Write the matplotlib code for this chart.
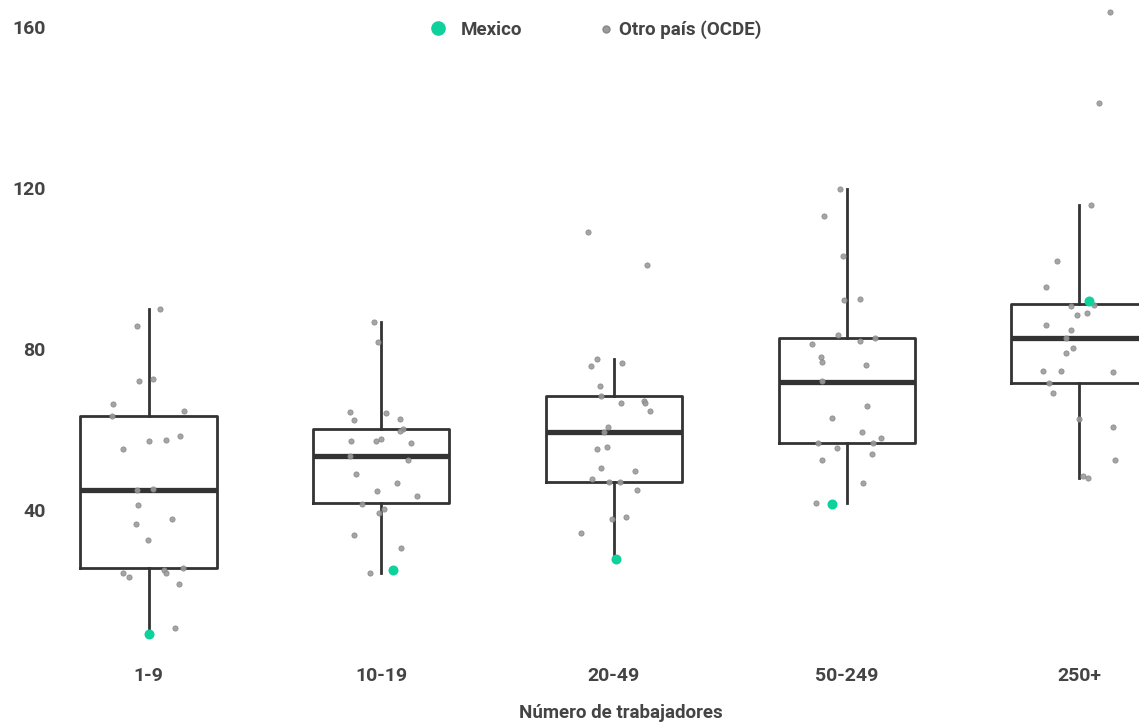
import matplotlib.pyplot as plt
from matplotlib.lines import Line2D

plt.rcParams['font.family'] = ['Roboto', 'DejaVu Sans']

# Categorías y estadísticos de cada caja
categorias = ['1-9', '10-19', '20-49', '50-249', '250+']
q1 = [25.5, 41.7, 47.0, 56.6, 71.5]
mediana = [45.0, 53.3, 59.5, 71.9, 82.7]
q3 = [63.4, 60.1, 68.2, 82.8, 91.1]
bigote_inf = [9.1, 24.3, 27.8, 41.7, 48.0]
bigote_sup = [89.9, 86.6, 77.5, 119.8, 115.8]

# México
mexico = [9.1, 25.1, 27.8, 41.6, 91.9]
mexico_jitter = [0.003, 0.050, 0.010, -0.062, 0.042]

# Otros países de la OCDE (valor y desplazamiento horizontal del punto)
otros_1_9 = [89.9, 85.8, 72.1, 72.6, 66.3, 63.3, 64.5, 57.1, 57.5, 58.5, 55.2, 45.0,
             45.3, 41.2, 36.4, 37.8, 32.6, 25.0, 24.4, 25.6, 24.3, 23.4, 21.7, 10.6]
jit_1_9 = [0.051, -0.049, -0.041, 0.021, -0.153, -0.156, 0.154, 0.001, 0.077, 0.134, -0.110, -0.051,
           0.019, -0.044, -0.054, 0.100, -0.001, 0.068, 0.075, 0.147, -0.110, -0.083, 0.130, 0.114]

otros_10_19 = [86.6, 81.8, 64.3, 62.4, 64.0, 62.6, 60.2, 59.6, 57.1, 57.1, 57.7, 56.6,
               53.3, 52.3, 49.0, 46.7, 44.7, 43.5, 41.6, 39.3, 40.2, 33.8, 30.6, 24.3]
jit_10_19 = [-0.031, -0.014, -0.136, -0.116, 0.022, 0.080, 0.093, 0.080, -0.129, -0.023, 0.001, 0.128,
             -0.136, 0.115, -0.109, 0.070, -0.016, 0.155, -0.082, -0.009, 0.010, -0.117, 0.085, -0.047]

otros_20_49 = [109.0, 100.9, 77.5, 75.8, 76.5, 70.9, 68.2, 66.6, 67.0, 66.6, 64.7, 60.6,
               59.5, 55.1, 55.7, 50.5, 49.6, 47.7, 47.0, 47.0, 45.0, 37.8, 38.2, 34.2]
jit_20_49 = [-0.113, 0.142, -0.072, -0.098, 0.034, -0.060, -0.056, 0.030, 0.130, 0.132, 0.155, -0.026,
             -0.042, -0.072, -0.030, -0.057, 0.090, -0.095, -0.020, 0.027, 0.099, -0.010, 0.053, -0.142]

otros_50_249 = [119.8, 113.1, 103.1, 92.1, 92.4, 83.6, 82.8, 81.3, 81.9, 78.1, 76.8, 76.0,
                72.0, 65.9, 62.9, 59.5, 57.8, 56.6, 55.5, 56.6, 54.0, 52.4, 46.7, 41.8]
jit_50_249 = [-0.028, -0.097, -0.015, -0.013, 0.056, -0.037, 0.122, -0.149, 0.056, -0.108, -0.106, 0.083,
              -0.105, 0.088, -0.062, 0.066, 0.148, -0.125, -0.043, 0.114, 0.109, -0.105, 0.072, -0.130]

otros_250 = [163.7, 141.2, 115.8, 101.9, 95.3, 91.0, 90.7, 89.0, 88.5, 85.9, 84.8, 82.8,
             80.2, 79.1, 74.5, 74.5, 74.4, 71.5, 69.1, 62.7, 60.5, 52.3, 48.5, 48.0]
jit_250 = [0.133, 0.085, 0.049, -0.096, -0.142, 0.064, -0.034, 0.032, -0.011, -0.144, -0.037, -0.056,
           -0.028, -0.058, -0.156, -0.079, 0.145, -0.129, -0.113, -0.001, 0.145, 0.152, 0.015, 0.039]

otros = [otros_1_9, otros_10_19, otros_20_49, otros_50_249, otros_250]
jitters = [jit_1_9, jit_10_19, jit_20_49, jit_50_249, jit_250]

texto = '#444444'
verde = '#0fd19c'
gris = '#9b9b9b'

fig = plt.figure(figsize=(11.39, 7.23), dpi=100)
ax = fig.add_axes([60 / 1139, 1 - 650 / 723, 1 - 60 / 1139, 650 / 723])

stats = []
for i, cat in enumerate(categorias):
    stats.append({'label': cat, 'q1': q1[i], 'med': mediana[i], 'q3': q3[i],
                  'whislo': bigote_inf[i], 'whishi': bigote_sup[i], 'fliers': []})

ax.bxp(stats, positions=range(len(categorias)), widths=0.585, showcaps=False,
       showfliers=False, patch_artist=False,
       boxprops=dict(color='#333333', linewidth=2.0),
       whiskerprops=dict(color='#333333', linewidth=2.0),
       medianprops=dict(color='#333333', linewidth=3.8, solid_capstyle='butt'))

for i in range(len(categorias)):
    xs = [i + j for j in jitters[i]]
    ax.scatter(xs, otros[i], s=14, color=gris, edgecolors='#888888', linewidths=0.6,
               alpha=0.9, zorder=3)
    ax.scatter(i + mexico_jitter[i], mexico[i], s=52, color=verde, linewidths=0, zorder=4)

ax.set_xlim((60 - 148.5) / 232.7, (1139 - 148.5) / 232.7)
ax.set_ylim(160 - 623 / 4.025, 160 + 27 / 4.025)
ax.set_yticks([40, 80, 120, 160])
ax.set_xticks(range(len(categorias)))
ax.set_xticklabels(categorias)
ax.tick_params(length=0, labelsize=14, labelcolor=texto)
ax.tick_params(axis='y', pad=10.5)
ax.tick_params(axis='x', pad=12)
for lab in ax.get_xticklabels() + ax.get_yticklabels():
    lab.set_fontweight('bold')
for s in ax.spines.values():
    s.set_visible(False)

fig.text(621 / 1139, 1 - 713 / 723, 'Número de trabajadores', ha='center', va='center',
         fontsize=13.5, fontweight='bold', color=texto)

# leyenda: dos entradas colocadas por separado
h_mex = Line2D([], [], marker='o', linestyle='none', markersize=9.5, color=verde)
h_otro = Line2D([], [], marker='o', linestyle='none', markersize=5, color=gris,
                markeredgecolor='#888888')
px = 13.5 * 100 / 72
for h, lab, xc, xt in [(h_mex, 'Mexico', 438, 461), (h_otro, 'Otro país (OCDE)', 606, 619)]:
    hl = 0.8
    pad = (xt - xc - hl * px / 2) / px
    leg = fig.legend([h], [lab], loc='center left', frameon=False,
                     bbox_to_anchor=((xc - hl * px / 2) / 1139, 1 - 30 / 723),
                     borderpad=0, borderaxespad=0, handlelength=hl, handletextpad=pad,
                     prop={'weight': 'bold', 'size': 13.5})
    for t in leg.get_texts():
        t.set_color(texto)

fig.savefig('out.png', dpi=100)
